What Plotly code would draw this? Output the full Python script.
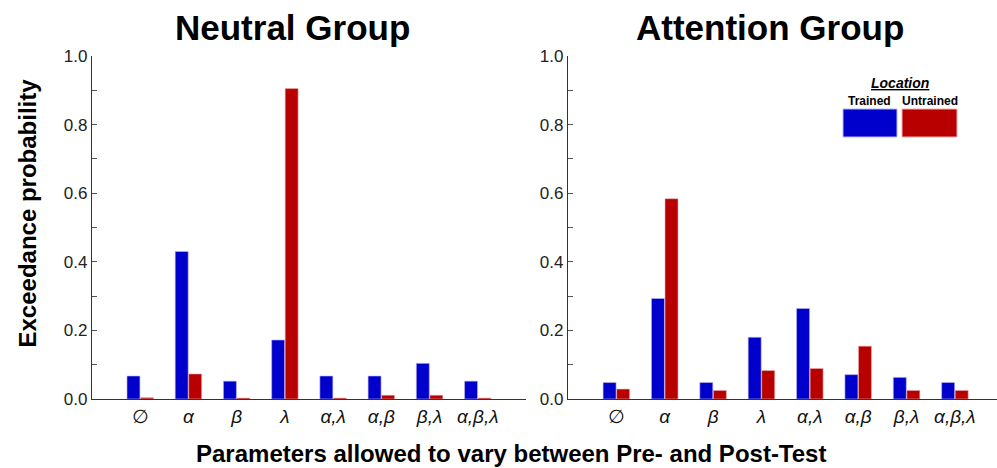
import plotly.graph_objects as go

categories = ["∅", "α", "β", "λ", "α,λ", "α,β", "β,λ", "α,β,λ"]
neutral_trained = [0.067, 0.430, 0.052, 0.172, 0.067, 0.067, 0.104, 0.052]
neutral_untrained = [0.004, 0.073, 0.003, 0.905, 0.003, 0.011, 0.011, 0.003]
attention_trained = [0.048, 0.293, 0.048, 0.180, 0.264, 0.071, 0.063, 0.048]
attention_untrained = [0.029, 0.584, 0.025, 0.083, 0.089, 0.154, 0.025, 0.025]
y_ticks = [0.0, 0.2, 0.4, 0.6, 0.8, 1.0]

BLUE = "#0000CC"
RED = "#B80000"
W, H = 997, 468
FONT = "Liberation Sans, Arial, Helvetica, sans-serif"

x_idx = list(range(len(categories)))
ticktext = ['<span style="font-family:DejaVu Sans">' + c + '</span>' if c == "∅" else "<i>" + c + "</i>"
            for c in categories]

fig = go.Figure()
for xa, ya, tr, un in [("x", "y", neutral_trained, neutral_untrained),
                       ("x2", "y2", attention_trained, attention_untrained)]:
    fig.add_trace(go.Bar(x=x_idx, y=tr, xaxis=xa, yaxis=ya, name="Trained",
                         marker=dict(color=BLUE, line=dict(color="#B8B8F0", width=0.6)),
                         showlegend=False))
    fig.add_trace(go.Bar(x=x_idx, y=un, xaxis=xa, yaxis=ya, name="Untrained",
                         marker=dict(color=RED, line=dict(color="#F0B0B0", width=0.6)),
                         showlegend=False))

def px_x(p):
    return p / W

def px_y(p):
    return (399 - p) / 343

xcommon = dict(tickmode="array", tickvals=x_idx, ticktext=ticktext, showgrid=False,
               zeroline=False, showline=True, linecolor="#333333", linewidth=1.2,
               ticks="", tickfont=dict(family=FONT, size=19, color="#111111"))
ycommon = dict(range=[0, 1], tickmode="array", tickvals=y_ticks,
               ticktext=["%.1f" % v for v in y_ticks], showgrid=False, zeroline=False,
               showline=True, linecolor="#333333", linewidth=1.2,
               ticks="inside", ticklen=5, tickcolor="#555555",
               minor=dict(ticks="inside", ticklen=5, dtick=0.1, tickcolor="#555555", showgrid=False),
               tickfont=dict(family=FONT, size=17, color="#222222"))

fig.update_layout(
    width=W, height=H,
    margin=dict(l=0, r=0, t=56, b=69),
    paper_bgcolor="white", plot_bgcolor="white",
    barmode="group", bargap=0.44, bargroupgap=0.04,
    xaxis=dict(domain=[px_x(92), px_x(526)], range=[-1, 8], anchor="y", **xcommon),
    yaxis=dict(anchor="x", **ycommon),
    xaxis2=dict(domain=[px_x(568), 1.0], range=[-1, 7.87], anchor="y2", **xcommon),
    yaxis2=dict(anchor="x2", **ycommon),
)

ann = [
    dict(text="<b>Neutral Group</b>", x=px_x(292.5), y=px_y(28), size=35),
    dict(text="<b>Attention Group</b>", x=px_x(770), y=px_y(28), size=35),
    dict(text="<b>Parameters allowed to vary between Pre- and Post-Test</b>", x=px_x(511), y=px_y(453), size=24),
    dict(text="<b><i><u>Location</u></i></b>", x=px_x(900), y=px_y(83), size=14),
    dict(text="<b>Trained</b>", x=px_x(869), y=px_y(100.5), size=12),
    dict(text="<b>Untrained</b>", x=px_x(929.5), y=px_y(100.5), size=12),
]
for a in ann:
    fig.add_annotation(text=a["text"], x=a["x"], y=a["y"], xref="paper", yref="paper",
                       xanchor="center", yanchor="middle", showarrow=False,
                       font=dict(family=FONT, size=a["size"], color="black"))
fig.add_annotation(text="<b>Exceedance probability</b>", x=px_x(27), y=px_y(213.5),
                   xref="paper", yref="paper", xanchor="center", yanchor="middle",
                   textangle=-90, showarrow=False,
                   font=dict(family=FONT, size=24, color="black"))

fig.add_shape(type="rect", xref="paper", yref="paper", x0=px_x(843), x1=px_x(897),
              y0=px_y(137), y1=px_y(109), fillcolor=BLUE, line=dict(color="#B8B8F0", width=1))
fig.add_shape(type="rect", xref="paper", yref="paper", x0=px_x(902), x1=px_x(957),
              y0=px_y(137), y1=px_y(109), fillcolor=RED, line=dict(color="#F0B0B0", width=1))

fig.write_html("out.html", config={"displayModeBar": False},
               post_script="document.body.style.margin='0';document.body.style.overflow='hidden';")
